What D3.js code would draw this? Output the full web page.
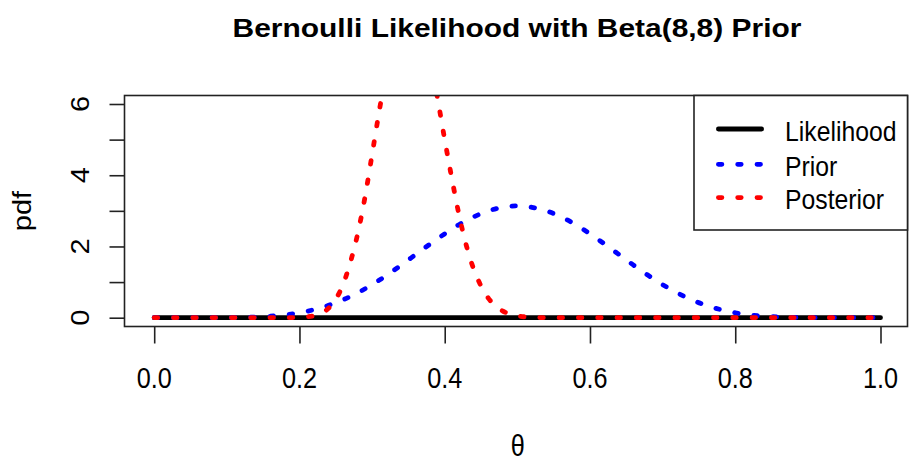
<!DOCTYPE html>
<html>
<head>
<meta charset="utf-8">
<script src="https://cdn.jsdelivr.net/npm/d3@7"></script>
<style>
  html, body { margin: 0; padding: 0; background: #fff; }
  svg { display: block; }
  text { font-family: "Liberation Sans", Arial, sans-serif; fill: #000; }
</style>
</head>
<body>
<svg id="chart" width="909" height="462"></svg>
<script>
// ---------------- data ----------------
const titleText = "Bernoulli Likelihood with Beta(8,8) Prior";
const xLabel = "θ";
const yLabel = "pdf";
const seriesNames = ["Likelihood", "Prior", "Posterior"];
const seriesColors = ["#000000", "#0000ff", "#ff0000"];

const xTicks = [0, 0.2, 0.4, 0.6, 0.8, 1.0];
const xTickLabels = ["0.0", "0.2", "0.4", "0.6", "0.8", "1.0"];
const yTicks = [0, 1, 2, 3, 4, 5, 6];
const yTickLabels = ["0", "", "2", "", "4", "", "6"];

const theta = [0.00,0.02,0.04,0.06,0.08,0.10,0.12,0.14,0.16,0.18,
               0.20,0.22,0.24,0.26,0.28,0.30,0.32,0.34,0.36,0.38,
               0.40,0.42,0.44,0.46,0.48,0.50,0.52,0.54,0.56,0.58,
               0.60,0.62,0.64,0.66,0.68,0.70,0.72,0.74,0.76,0.78,
               0.80,0.82,0.84,0.86,0.88,0.90,0.92,0.94,0.96,0.98,1.00];

const likelihood = [0,0,0,0,0,0,0,0,0,0,
                    0,0,0,0,0,0,0,0,0,0,
                    0,0,0,0,0,0,0,0,0,0,
                    0,0,0,0,0,0,0,0,0,0,
                    0,0,0,0,0,0,0,0,0,0,0];

const prior = [0,0,0,0.0001,0.0006,0.0025,0.0075,0.019,0.041,0.079,
               0.138,0.226,0.346,0.502,0.697,0.928,1.189,1.475,1.773,2.070,
               2.356,2.617,2.832,2.998,3.100,3.142,3.100,2.998,2.832,2.617,
               2.356,2.070,1.773,1.475,1.189,0.928,0.697,0.502,0.346,0.226,
               0.138,0.079,0.041,0.019,0.0075,0.0025,0.0006,0.0001,0,0,0];

const thetaPost = [0.00,0.02,0.04,0.06,0.08,0.10,0.12,0.14,0.16,
                   0.18,0.19,0.20,0.21,0.22,0.23,0.24,0.25,0.26,0.27,
                   0.28,0.29,0.30,0.31,0.32,0.33,0.34,0.35,0.36,0.37,
                   0.38,0.39,0.40,0.41,0.42,0.43,0.44,0.45,0.46,0.47,
                   0.48,0.49,0.50,0.51,0.52,
                   0.54,0.56,0.58,0.60,0.62,0.64,0.66,0.68,0.70,0.72,
                   0.74,0.76,0.78,0.80,0.82,0.84,0.86,0.88,0.90,0.92,
                   0.94,0.96,0.98,1.00];

const posterior = [0,0,0,0,0,0,0,0,0,
                   0.0007,0.003,0.008,0.022,0.056,0.126,0.264,0.52,0.93,1.55,
                   2.34,3.36,4.58,5.82,6.98,7.95,8.66,8.93,8.75,8.15,
                   7.24,6.17,5.00,3.89,2.86,2.01,1.36,0.89,0.55,0.33,
                   0.185,0.10,0.052,0.025,0.012,
                   0.002,0,0,0,0,0,0,0,0,0,
                   0,0,0,0,0,0,0,0,0,0,
                   0,0,0,0];

// ---------------- layout ----------------
const W = 909, H = 462;
const box = { left: 124.5, top: 95.5, right: 907.5, bottom: 326.5 };
const lw = 4.8;
const dots = "3.5 15.8";
const regFont = 29, regScale = 0.87;

const svg = d3.select("#chart");

const x = d3.scaleLinear().domain([0, 1]).range([154.2, 880.5]);
const y = d3.scaleLinear().domain([0, 6]).range([317.7, 104]);

// clip for plotting region
svg.append("defs").append("clipPath").attr("id", "plotclip")
  .append("rect")
  .attr("x", box.left).attr("y", box.top)
  .attr("width", box.right - box.left).attr("height", box.bottom - box.top);

// ---------------- curves ----------------
const line = d3.line().x(d => x(d[0])).y(d => y(d[1])).curve(d3.curveMonotoneX);
const curves = [
  { xs: theta, ys: likelihood, dash: null },
  { xs: theta, ys: prior, dash: dots },
  { xs: thetaPost, ys: posterior, dash: dots }
];
const gCurves = svg.append("g").attr("clip-path", "url(#plotclip)");
curves.forEach((c, i) => {
  gCurves.append("path")
    .attr("d", line(c.xs.map((t, j) => [t, c.ys[j]])))
    .attr("fill", "none")
    .attr("stroke", seriesColors[i])
    .attr("stroke-width", lw)
    .attr("stroke-linecap", "round")
    .attr("stroke-linejoin", "round")
    .attr("stroke-dasharray", c.dash);
});

// ---------------- box ----------------
svg.append("rect")
  .attr("x", box.left).attr("y", box.top)
  .attr("width", box.right - box.left).attr("height", box.bottom - box.top)
  .attr("fill", "none").attr("stroke", "#222").attr("stroke-width", 1.6);

// ---------------- axes ----------------
const xAxis = d3.axisBottom(x).tickValues(xTicks).tickSize(17).tickSizeOuter(0).tickFormat("");
const gx = svg.append("g").attr("transform", `translate(0,${box.bottom})`).call(xAxis);
gx.select(".domain").remove();
gx.selectAll(".tick line").attr("stroke", "#222").attr("stroke-width", 1.6);

const yAxis = d3.axisLeft(y).tickValues(yTicks).tickSize(15).tickSizeOuter(0).tickFormat("");
const gy = svg.append("g").attr("transform", `translate(${box.left},0)`).call(yAxis);
gy.select(".domain").remove();
gy.selectAll(".tick line").attr("stroke", "#222").attr("stroke-width", 1.6);

// x tick labels
xTicks.forEach((t, i) => {
  svg.append("text")
    .attr("transform", `translate(${x(t)},388.3) scale(${regScale},1)`)
    .attr("text-anchor", "middle")
    .style("font-size", regFont + "px")
    .text(xTickLabels[i]);
});
// y tick labels (rotated)
yTicks.forEach((t, i) => {
  if (!yTickLabels[i]) return;
  svg.append("text")
    .attr("transform", `translate(89.3,${y(t)}) scale(${regScale},1) rotate(-90)`)
    .attr("text-anchor", "middle")
    .style("font-size", regFont + "px")
    .text(yTickLabels[i]);
});

// axis titles
svg.append("text")
  .attr("transform", `translate(517.7,456) scale(${regScale},1)`)
  .attr("text-anchor", "middle")
  .style("font-size", regFont + "px")
  .text(xLabel);
svg.append("text")
  .attr("transform", `translate(30.8,${(box.top + box.bottom) / 2}) scale(${regScale},1) rotate(-90)`)
  .attr("text-anchor", "middle")
  .style("font-size", regFont + "px")
  .text(yLabel);

// title
svg.append("text")
  .attr("transform", `translate(517,36.7) scale(1.13,1)`)
  .attr("text-anchor", "middle")
  .style("font-size", "26.5px")
  .style("font-weight", "bold")
  .text(titleText);

// ---------------- legend ----------------
const leg = { left: 694, top: box.top, right: box.right, bottom: 230 };
svg.append("rect")
  .attr("x", leg.left).attr("y", leg.top)
  .attr("width", leg.right - leg.left).attr("height", leg.bottom - leg.top)
  .attr("fill", "#fff").attr("stroke", "#222").attr("stroke-width", 1.6);

const legRowY = [129, 164.3, 197.6];
const legBase = [140.7, 176, 209.3];
seriesNames.forEach((name, i) => {
  svg.append("line")
    .attr("x1", 718.4).attr("x2", 761.6)
    .attr("y1", legRowY[i]).attr("y2", legRowY[i])
    .attr("stroke", seriesColors[i])
    .attr("stroke-width", lw)
    .attr("stroke-linecap", "round")
    .attr("stroke-dasharray", i === 0 ? null : dots);
  svg.append("text")
    .attr("transform", `translate(785,${legBase[i]}) scale(0.9,1)`)
    .style("font-size", "27.5px")
    .text(name);
});
</script>
</body>
</html>
